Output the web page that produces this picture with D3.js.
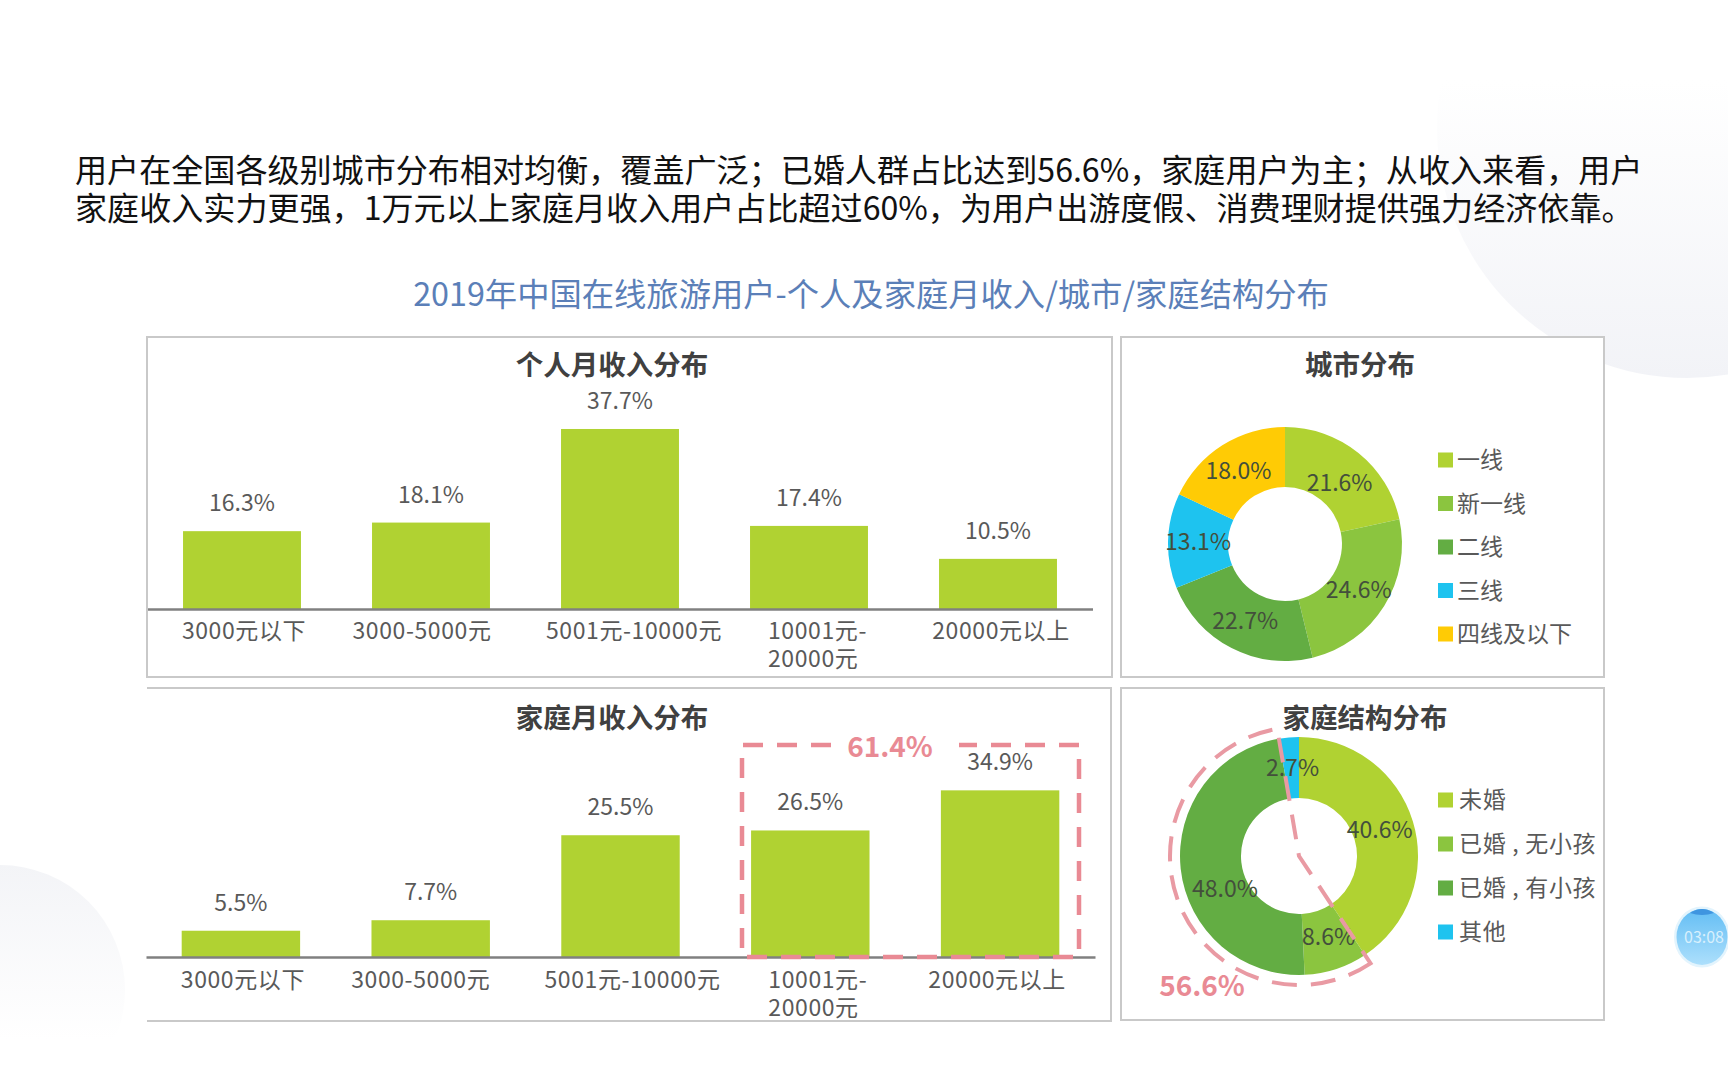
<!DOCTYPE html>
<html>
<head>
<meta charset="utf-8">
<style>
  html, body { margin: 0; padding: 0; background: #fff; overflow: hidden; }
  svg { display: block; }
  text { font-family: "Noto Sans CJK SC", "Noto Sans", sans-serif; }
</style>
<script src="https://cdn.jsdelivr.net/npm/d3@7"></script>
</head>
<body>
<svg id="chart" width="1728" height="1080"></svg>
<script>
const bodyLines = [
  '用户在全国各级别城市分布相对均衡，覆盖广泛；已婚人群占比达到56.6%，家庭用户为主；从收入来看，用户',
  '家庭收入实力更强，1万元以上家庭月收入用户占比超过60%，为用户出游度假、消费理财提供强力经济依靠。'
]
const mainTitle = '2019年中国在线旅游用户-个人及家庭月收入/城市/家庭结构分布'

const incomeCats = ['3000元以下', '3000-5000元', '5001元-10000元', '10001元-\n20000元', '20000元以上']
const personalIncome = [16.3, 18.1, 37.7, 17.4, 10.5]
const familyIncome = [5.5, 7.7, 25.5, 26.5, 34.9]

const cityCats = ['一线', '新一线', '二线', '三线', '四线及以下']
const cityShare = [21.6, 24.6, 22.7, 13.1, 18.0]
const cityColors = ['#b0d232', '#8bc53f', '#63ad43', '#1ec3ef', '#ffcb05']

const familyCats = ['未婚', '已婚 , 无小孩', '已婚 , 有小孩', '其他']
const familyShare = [40.6, 8.6, 48.0, 2.7]
const familyColors = ['#b0d232', '#8bc53f', '#63ad43', '#1ec3ef']

const BAR = '#b0d232'
const PINK = '#e98a94'
const GREY = '#595959'
const svg = d3.select('#chart')
const defs = svg.append('defs')

// faint background circles and the timer bubble
function fade(id, y1, y2, c1, c2) {
  const g = defs.append('linearGradient').attr('id', id)
    .attr('gradientUnits', 'userSpaceOnUse')
    .attr('x1', 0).attr('x2', 0).attr('y1', y1).attr('y2', y2)
  g.append('stop').attr('offset', 0).attr('stop-color', c1)
  g.append('stop').attr('offset', 1).attr('stop-color', c2)
}
fade('bgTop', 80, 378, '#ffffff', '#f2f3f7')
fade('bgBottom', 863, 1040, '#f3f4f7', '#ffffff')
fade('bubble', 908, 966, '#62bdf4', '#aee0fc')
svg.append('circle').attr('cx', 1687).attr('cy', 128).attr('r', 250).attr('fill', 'url(#bgTop)')
svg.append('circle').attr('cx', 0).attr('cy', 990).attr('r', 125).attr('fill', 'url(#bgBottom)')

svg.append('ellipse').attr('cx', 1702).attr('cy', 937).attr('rx', 28).attr('ry', 30.5).attr('fill', '#e3f4fd')
svg.append('ellipse').attr('cx', 1702).attr('cy', 937).attr('rx', 25.5).attr('ry', 28).attr('fill', 'url(#bubble)')
svg.append('path').attr('d', 'M1690 913 Q1702 905 1714 913 Q1702 917 1690 913 Z').attr('fill', '#3f95e0')
svg.append('text').attr('x', 1704).attr('y', 943).attr('text-anchor', 'middle')
  .attr('font-size', 16).attr('fill', '#d8f0fd').text('03:08')

// heading text
svg.selectAll('text.body').data(bodyLines).join('text')
  .attr('class', 'body')
  .attr('x', 75)
  .attr('y', (d, i) => 182 + i * 38)
  .attr('font-size', 32.08)
  .attr('fill', '#111')
  .text(d => d)

svg.append('text').attr('x', 871).attr('y', 306).attr('text-anchor', 'middle')
  .attr('font-size', 32.3).attr('fill', '#5b7fb8').text(mainTitle)

// panels
function panel(x0, y0, x1, y1, openLeft) {
  const p = d3.path()
  p.moveTo(x0, y0); p.lineTo(x1, y0); p.lineTo(x1, y1); p.lineTo(x0, y1)
  if (!openLeft) p.closePath()
  svg.append('path').attr('d', p.toString()).attr('fill', '#fff')
    .attr('stroke', '#c9c9c9').attr('stroke-width', 2)
}
panel(147, 337, 1112, 677)
panel(1121, 337, 1604, 677)
panel(147, 688, 1111, 1021, true)
panel(1121, 688, 1604, 1020)

function chartTitle(txt, x, y) {
  svg.append('text').attr('x', x).attr('y', y + 10).attr('text-anchor', 'middle')
    .attr('font-size', 27.5).attr('font-weight', 700).attr('fill', '#404040').text(txt)
}
chartTitle('个人月收入分布', 612, 365)
chartTitle('城市分布', 1360, 365)
chartTitle('家庭月收入分布', 612, 718)
chartTitle('家庭结构分布', 1365, 718)

function drawBars(values, range, base, labelShift, padding) {
  const x = d3.scaleBand().domain(incomeCats).range(range)
    .paddingInner(0.376).paddingOuter(0.188)
  const y = d3.scaleLinear().domain([0, 40]).range([base, base - 191])
  const g = svg.append('g')

  g.selectAll('rect').data(values).join('rect')
    .attr('x', (d, i) => x(incomeCats[i]))
    .attr('y', d => y(d))
    .attr('width', x.bandwidth())
    .attr('height', d => y(0) - y(d))
    .attr('fill', BAR)

  g.selectAll('text.val').data(values).join('text')
    .attr('class', 'val')
    .attr('x', (d, i) => x(incomeCats[i]) + x.bandwidth() / 2)
    .attr('y', d => y(d) - 20)
    .attr('text-anchor', 'middle')
    .attr('font-size', 23)
    .attr('fill', GREY)
    .text(d => d.toFixed(1) + '%')

  const axis = g.append('g').attr('transform', `translate(0,${base})`)
    .call(d3.axisBottom(x).tickSize(0).tickPadding(padding))
  axis.select('.domain').attr('stroke', '#808080').attr('stroke-width', 2.5)
  axis.selectAll('text')
    .attr('font-size', 23)
    .attr('fill', GREY)
    .style('font-family', '"Noto Sans CJK SC"')
    .style('letter-spacing', '0.6px')
    .each(function (d, i) {
      const t = d3.select(this)
      const lines = d.split('\n')
      t.attr('x', labelShift[i])
      if (lines.length == 1) return
      // wrapped label is left aligned in the source chart, second line as its own text
      t.text(lines[0]).attr('text-anchor', 'start')
      d3.select(this.parentNode).append('text')
        .attr('x', labelShift[i])
        .attr('y', t.attr('y'))
        .attr('dy', '1.9em')
        .attr('font-size', 23)
        .attr('fill', GREY)
        .attr('text-anchor', 'start')
        .style('letter-spacing', '0.6px')
        .text(lines[1])
    })
  return { x, y }
}

drawBars(personalIncome, [147.5, 1092.5], 609, [2, -9, 14, -41, 3], 14)
drawBars(familyIncome, [146, 1095], 957, [2, -10, 12, -42, -3], 15)

// dashed box over the two top family income bars
const box = d3.path()
box.moveTo(831, 745); box.lineTo(742, 745); box.lineTo(742, 957)
box.lineTo(1079, 957); box.lineTo(1079, 745); box.lineTo(959, 745)
svg.append('path').attr('d', box.toString()).attr('fill', 'none')
  .attr('stroke', PINK).attr('stroke-width', 4.5).attr('stroke-dasharray', '20 14')
svg.append('text').attr('x', 890).attr('y', 757).attr('text-anchor', 'middle')
  .attr('font-size', 28).attr('font-weight', 700).attr('fill', PINK).text('61.4%')

function drawDonut(values, colors, cats, cx, cy, ro, ri, labelMove, legendX, legendY, legendTextX, legendSpacing) {
  const pie = d3.pie().sort(null)
  const arc = d3.arc().innerRadius(ri).outerRadius(ro)
  const arcs = pie(values)
  const g = svg.append('g').attr('transform', `translate(${cx},${cy})`)

  g.selectAll('path').data(arcs).join('path')
    .attr('d', arc)
    .attr('fill', (d, i) => colors[i])

  g.selectAll('text').data(arcs).join('text')
    .attr('x', (d, i) => arc.centroid(d)[0] + labelMove[i][0])
    .attr('y', (d, i) => arc.centroid(d)[1] + labelMove[i][1] + 8)
    .attr('text-anchor', 'middle')
    .attr('font-size', 23)
    .attr('fill', '#434f3c')
    .text(d => d.value.toFixed(1) + '%')

  const lg = svg.append('g').selectAll('g').data(cats).join('g')
    .attr('transform', (d, i) => `translate(${legendX},${legendY(i)})`)
  lg.append('rect').attr('y', -7.5).attr('width', 15).attr('height', 15)
    .attr('fill', (d, i) => colors[i])
  lg.append('text').attr('x', legendTextX).attr('y', 8).attr('font-size', 23)
    .attr('fill', GREY)
    .style('letter-spacing', legendSpacing)
    .text(d => d)
  return arcs
}

drawDonut(cityShare, cityColors, cityCats, 1285, 544, 117, 57,
  [[0, 7], [0, 0], [0, 0], [0, 0], [0, 0]],
  1438, d3.scalePoint().domain(d3.range(5)).range([460, 634]), 19, '0px')

const famArcs = drawDonut(familyShare, familyColors, familyCats, 1299, 856, 119, 58,
  [[-4, 0], [2, -3], [14, 23], [1, 0]],
  1438, d3.scalePoint().domain(d3.range(4)).range([800, 932]), 21, '0.7px')

// dashed sector for the two married slices
const sector = d3.arc().innerRadius(0).outerRadius(129)
svg.append('path')
  .attr('transform', 'translate(1299,856)')
  .attr('d', sector({ startAngle: famArcs[1].startAngle, endAngle: famArcs[2].endAngle }))
  .attr('fill', 'none')
  .attr('stroke', '#e99aa3')
  .attr('stroke-width', 4)
  .attr('stroke-dasharray', '25 14')
svg.append('text').attr('x', 1202).attr('y', 996).attr('text-anchor', 'middle')
  .attr('font-size', 28).attr('font-weight', 700).attr('fill', PINK).text('56.6%')
</script>
</body>
</html>
